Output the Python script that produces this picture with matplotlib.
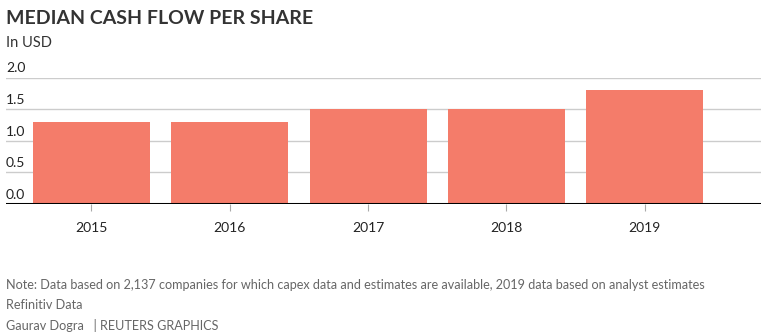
import matplotlib
matplotlib.use('Agg')
import matplotlib.pyplot as plt

years = ["2015", "2016", "2017", "2018", "2019"]
cash_flow = [1.30, 1.30, 1.50, 1.50, 1.80]
y_ticks = [0.0, 0.5, 1.0, 1.5, 2.0]

plt.rcParams['font.family'] = ['Lato', 'DejaVu Sans']

fig = plt.figure(figsize=(7.65, 3.33), dpi=100)
ax = fig.add_axes([0.0078, 0.388, 0.987, 0.379])

x = range(len(years))
ax.bar(x, cash_flow, width=0.845, color='#F47C6A', zorder=2)

ax.set_xlim(-0.617, 4.84)
ax.set_ylim(0, 2.0)

# gridlines with labels sitting above them
for v in y_ticks:
    ax.axhline(v, color='#cccccc', lw=1, zorder=1)
    ax.text(-0.617, v + 0.05, f"{v:.1f}", fontsize=10, color='#222222',
            ha='left', va='bottom', zorder=3)
ax.axhline(0, color='black', lw=2.2, zorder=4)

ax.set_yticks([])
ax.set_xticks(list(x))
ax.set_xticklabels(years, fontsize=10, color='#222222')
ax.tick_params(axis='x', length=5, color='#aaaaaa', pad=8)
for s in ax.spines.values():
    s.set_visible(False)

fig.text(0.0078, 1 - 18 / 333, "MEDIAN CASH FLOW PER SHARE", fontsize=14,
         fontweight='bold', color='#333333', va='center', ha='left')
fig.text(0.0078, 1 - 43 / 333, "In USD", fontsize=10.5, color='#333333',
         va='center', ha='left')

foot = '#666666'
fig.text(0.0078, 1 - 285 / 333,
         "Note: Data based on 2,137 companies for which capex data and estimates are available, 2019 data based on analyst estimates",
         fontsize=9.1, color=foot, va='center', ha='left')
fig.text(0.0078, 1 - 305 / 333, "Refinitiv Data", fontsize=9.1, color=foot,
         va='center', ha='left')
fig.text(0.0078, 1 - 325 / 333, "Gaurav Dogra   | REUTERS GRAPHICS", fontsize=9.1,
         color=foot, va='center', ha='left')

fig.savefig('out.png', dpi=100)
